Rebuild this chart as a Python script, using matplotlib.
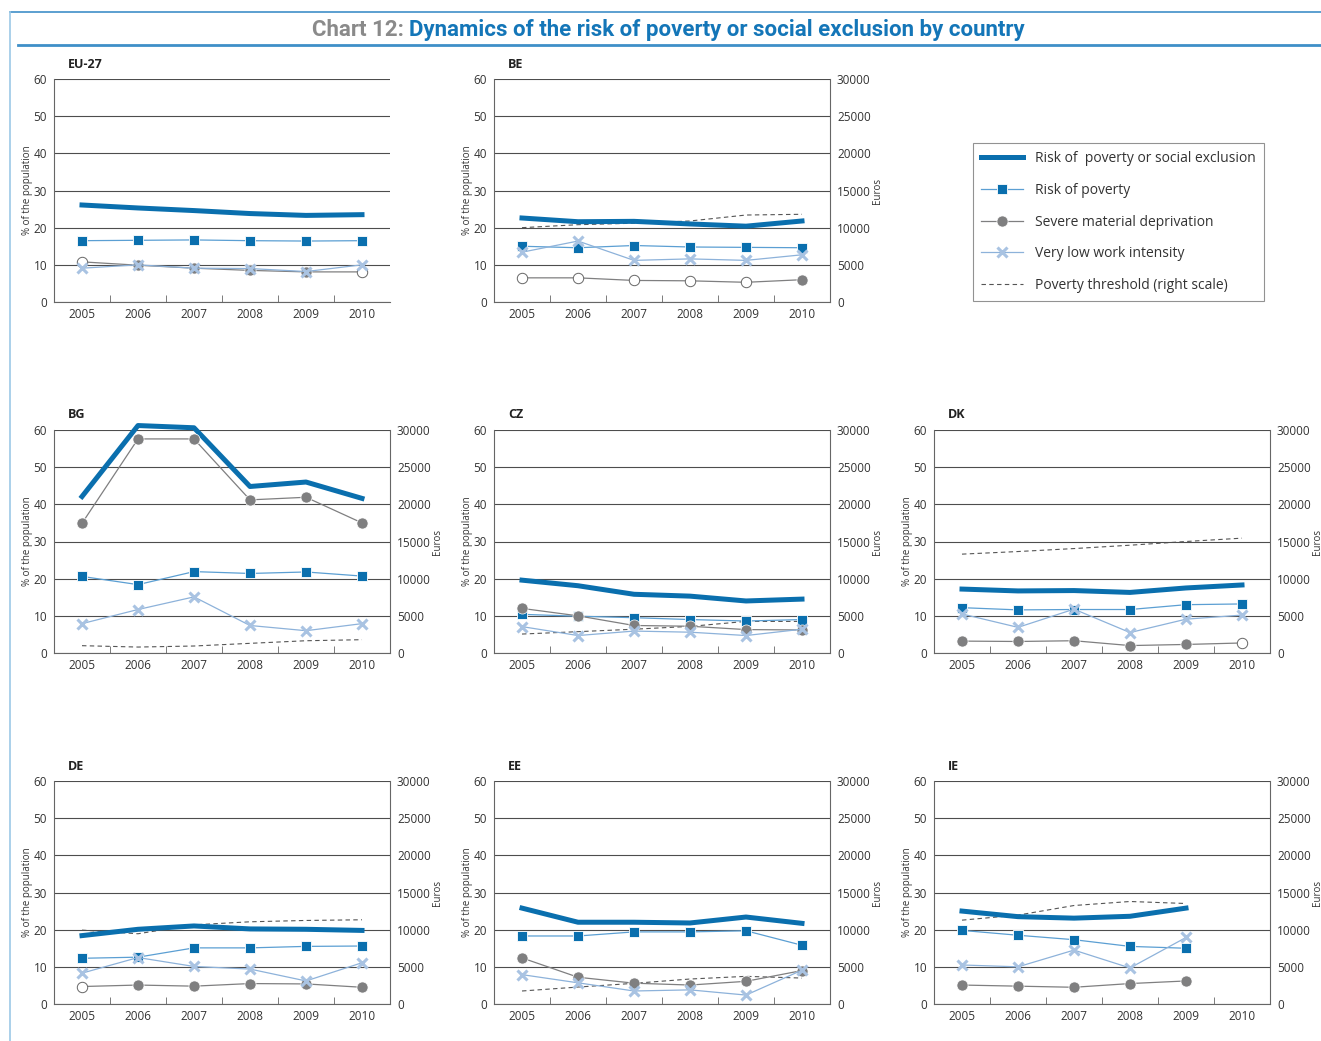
import numpy as np
import matplotlib.pyplot as plt
from matplotlib.lines import Line2D

plt.rcParams['font.family'] = ['Open Sans', 'DejaVu Sans']

nan = np.nan
years = ['2005', '2006', '2007', '2008', '2009', '2010']
countries = ['EU-27', 'BE', 'BG', 'CZ', 'DK', 'DE', 'EE', 'IE']

# % of the population, one row per country
rpse = [
    [26.1, 25.3, 24.6, 23.8, 23.3, 23.5],
    [22.6, 21.6, 21.7, 21.0, 20.4, 21.8],
    [42.1, 61.2, 60.6, 44.8, 46.0, 41.6],
    [19.6, 18.1, 15.8, 15.3, 14.0, 14.5],
    [17.2, 16.7, 16.8, 16.3, 17.5, 18.3],
    [18.4, 20.1, 21.0, 20.2, 20.1, 19.8],
    [25.8, 22.0, 22.0, 21.8, 23.4, 21.7],
    [25.0, 23.5, 23.1, 23.6, 25.8, nan],
]
rop = [
    [16.5, 16.6, 16.7, 16.5, 16.4, 16.5],
    [15.0, 14.6, 15.2, 14.8, 14.7, 14.6],
    [20.6, 18.4, 21.9, 21.4, 21.8, 20.7],
    [10.4, 9.9, 9.5, 9.0, 8.6, 9.0],
    [12.2, 11.6, 11.7, 11.7, 13.0, 13.2],
    [12.3, 12.6, 15.1, 15.1, 15.5, 15.6],
    [18.3, 18.3, 19.4, 19.4, 19.7, 15.8],
    [19.8, 18.5, 17.3, 15.5, 15.0, nan],
]
smd = [
    [10.8, 9.9, 9.1, 8.5, 8.1, 8.1],
    [6.5, 6.5, 5.8, 5.7, 5.3, 6.0],
    [34.9, 57.6, 57.6, 41.2, 41.9, 35.0],
    [12.0, 10.0, 7.4, 7.2, 6.3, 6.2],
    [3.2, 3.1, 3.3, 2.0, 2.3, 2.7],
    [4.7, 5.1, 4.8, 5.5, 5.4, 4.5],
    [12.4, 7.2, 5.6, 5.1, 6.1, 9.0],
    [5.1, 4.8, 4.5, 5.5, 6.2, nan],
]
smd_hollow = [
    [1, 0, 0, 0, 0, 1],
    [1, 1, 1, 1, 1, 0],
    [0, 0, 0, 0, 0, 0],
    [0, 0, 0, 0, 0, 0],
    [0, 0, 0, 0, 0, 1],
    [1, 0, 0, 0, 0, 0],
    [0, 0, 0, 0, 0, 0],
    [0, 0, 0, 0, 0, 0],
]
vlwi = [
    [9.1, 10.0, 9.1, 9.0, 8.2, 10.0],
    [13.4, 16.4, 11.2, 11.6, 11.2, 12.7],
    [7.9, 11.7, 15.1, 7.4, 6.0, 7.9],
    [7.1, 4.7, 5.9, 5.6, 4.7, 6.4],
    [10.5, 6.9, 11.8, 5.5, 9.1, 10.2],
    [8.3, 12.5, 10.1, 9.4, 6.2, 11.1],
    [7.9, 5.7, 3.5, 3.8, 2.4, 9.1],
    [10.5, 10.0, 14.5, 9.7, 17.9, nan],
]
# euros, right scale (none for EU-27)
threshold = [
    None,
    [10000, 10400, 10600, 10900, 11700, 11800],
    [985, 800, 940, 1300, 1650, 1790],
    [2550, 2870, 3200, 3580, 4250, 4250],
    [13300, 13650, 14050, 14500, 15000, 15450],
    [9940, 9450, 10650, 11060, 11240, 11330],
    [1750, 2280, 2780, 3360, 3720, 3490],
    [11280, 11960, 13250, 13790, 13520, nan],
]

c_main = '#0a6fae'
c_rop_line = '#5b9fd3'
c_smd = '#7f7f80'
c_vlwi = '#a9c3e2'
c_vlwi_line = '#8db2da'
c_grid = '#4d4d4d'
c_text = '#333333'

W, H = 1321, 1041
fig = plt.figure(figsize=(W / 100, H / 100), dpi=100)

# title and frame lines
fig.add_artist(Line2D([10 / W, 1], [1 - 12 / H, 1 - 12 / H], color='#3f8fc8', lw=1.2))
fig.add_artist(Line2D([18 / W, 1], [1 - 45 / H, 1 - 45 / H], color='#3f8fc8', lw=2))
fig.add_artist(Line2D([10 / W, 10 / W], [0, 1 - 12 / H], color='#9cc8e6', lw=1.2))
tfont = ['Roboto', 'DejaVu Sans']
fig.text(404 / W, 1 - 30 / H, 'Chart 12:', ha='right', va='center', color='#8a8a8a',
         fontsize=16, fontweight='bold', family=tfont)
fig.text(409 / W, 1 - 30 / H, 'Dynamics of the risk of poverty or social exclusion by country',
         ha='left', va='center', color='#1476b8', fontsize=16, fontweight='bold', family=tfont)

lefts = [54, 494, 934]
tops = [79, 430, 781]
aw, ah = 336, 223
slots = [(0, 0), (0, 1), (1, 0), (1, 1), (1, 2), (2, 0), (2, 1), (2, 2)]
x = np.arange(len(years))

for i, name in enumerate(countries):
    r, c = slots[i]
    ax = fig.add_axes([lefts[c] / W, 1 - (tops[r] + ah) / H, aw / W, ah / H])
    ax.set_xlim(-0.5, 5.5)
    ax.set_ylim(0, 60)
    ax.set_yticks(range(0, 61, 10))
    ax.set_xticks(x)
    ax.set_xticklabels(years)
    ax.set_xticks(np.arange(0.5, 5, 1), minor=True)
    ax.tick_params(axis='x', which='major', length=0, pad=4, labelsize=8.5, labelcolor=c_text)
    ax.tick_params(axis='x', which='minor', direction='in', length=5, color='#666666')
    ax.tick_params(axis='y', length=0, pad=5, labelsize=8.5, labelcolor=c_text)
    ax.grid(axis='y', color=c_grid, lw=0.8)
    ax.set_axisbelow(True)
    for s in ['top', 'right']:
        ax.spines[s].set_visible(False)
    for s in ['left', 'bottom']:
        ax.spines[s].set_color('#666666')
        ax.spines[s].set_linewidth(0.8)
    ax.set_ylabel('% of the population', fontsize=7, color=c_text, labelpad=0.5)
    ax.text(14 / aw, 1 + 15 / ah, name, transform=ax.transAxes, fontsize=9,
            fontweight='bold', color='#222222', va='center', ha='left')

    if threshold[i] is not None:
        ax2 = ax.twinx()
        ax2.set_ylim(0, 30000)
        ax2.set_yticks(range(0, 30001, 5000))
        ax2.tick_params(axis='y', length=0, pad=5, labelsize=8.5, labelcolor=c_text)
        for s in ['top', 'left', 'bottom']:
            ax2.spines[s].set_visible(False)
        ax2.spines['right'].set_color('#666666')
        ax2.spines['right'].set_linewidth(0.8)
        ax2.set_ylabel('Euros', fontsize=7, color=c_text, labelpad=1)
        ax2.plot(x, threshold[i], color='#555555', lw=0.8, dashes=(4, 3), clip_on=False)
        ax.set_zorder(ax2.get_zorder() + 1)
        ax.patch.set_visible(False)

    ax.plot(x, rpse[i], color=c_main, lw=3.6, clip_on=False, zorder=3)
    ax.plot(x, rop[i], color=c_rop_line, lw=0.9, marker='s', ms=7,
            mfc=c_main, mec='white', mew=0.6, clip_on=False, zorder=4)
    sv = np.array(smd[i], dtype=float)
    hol = np.array(smd_hollow[i], dtype=bool)
    ax.plot(x, sv, color=c_smd, lw=0.9, clip_on=False, zorder=5)
    ax.plot(x[~hol], sv[~hol], 'o', ms=8, mfc=c_smd, mec='white', mew=0.5,
            clip_on=False, zorder=5)
    ax.plot(x[hol], sv[hol], 'o', ms=7.5, mfc='white', mec='#666666', mew=0.7,
            clip_on=False, zorder=5)
    ax.plot(x, vlwi[i], color=c_vlwi_line, lw=0.9, marker='x', ms=6.5,
            mec=c_vlwi, mew=2.2, clip_on=False, zorder=6)

handles = [
    Line2D([], [], color=c_main, lw=3.6),
    Line2D([], [], color=c_rop_line, lw=0.9, marker='s', ms=7, mfc=c_main, mec='white', mew=0.6),
    Line2D([], [], color=c_smd, lw=0.9, marker='o', ms=8, mfc=c_smd, mec='white', mew=0.5),
    Line2D([], [], color=c_vlwi_line, lw=0.9, marker='x', ms=6.5, mec=c_vlwi, mew=2.2),
    Line2D([], [], color='#555555', lw=0.8, dashes=(4, 3)),
]
labels = ['Risk of  poverty or social exclusion', 'Risk of poverty',
          'Severe material deprivation', 'Very low work intensity',
          'Poverty threshold (right scale)']
leg = fig.legend(handles, labels, loc='upper left', bbox_to_anchor=(973 / W, 1 - 143 / H),
                 fontsize=10, handlelength=3.0, labelspacing=1.2, frameon=True,
                 fancybox=False, edgecolor='#777777', borderpad=0.6, handletextpad=0.85,
                 borderaxespad=0)
leg.get_frame().set_linewidth(0.8)
for t in leg.get_texts():
    t.set_color(c_text)

fig.savefig('out.png', dpi=100)
